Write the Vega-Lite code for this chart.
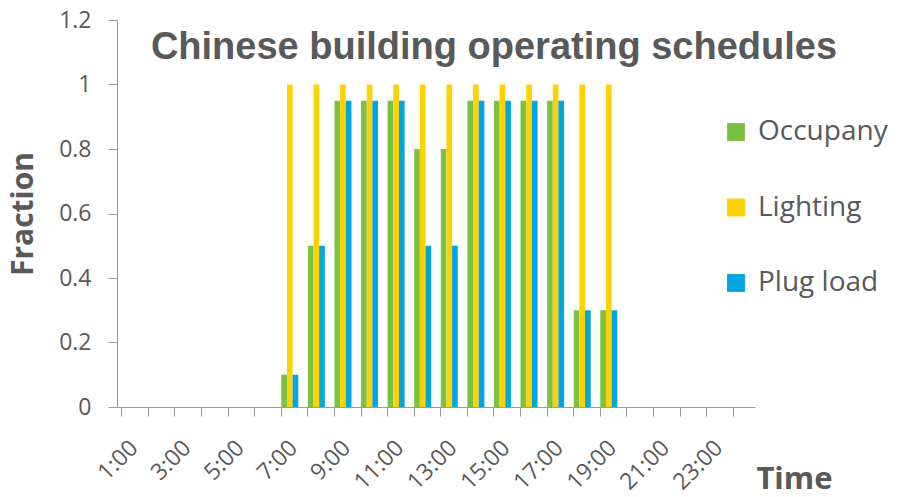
{
  "$schema": "https://vega.github.io/schema/vega-lite/v6.json",
  "width": 638,
  "height": 387,
  "autosize": {"type": "none"},
  "padding": {"left": 117, "top": 20, "right": 149, "bottom": 90},
  "background": "white",
  "title": {
    "text": "Chinese building operating schedules",
    "font": "Liberation Sans",
    "fontWeight": "bold",
    "fontSize": 38,
    "color": "#595959",
    "anchor": "middle",
    "frame": "group",
    "baseline": "alphabetic",
    "offset": -40,
    "dy": 48,
    "dx": 58
  },
  "data": {
    "values": [
      {"time": "1:00", "series": "Occupany", "value": 0}, {"time": "1:00", "series": "Lighting", "value": 0}, {"time": "1:00", "series": "Plug load", "value": 0},
      {"time": "2:00", "series": "Occupany", "value": 0}, {"time": "2:00", "series": "Lighting", "value": 0}, {"time": "2:00", "series": "Plug load", "value": 0},
      {"time": "3:00", "series": "Occupany", "value": 0}, {"time": "3:00", "series": "Lighting", "value": 0}, {"time": "3:00", "series": "Plug load", "value": 0},
      {"time": "4:00", "series": "Occupany", "value": 0}, {"time": "4:00", "series": "Lighting", "value": 0}, {"time": "4:00", "series": "Plug load", "value": 0},
      {"time": "5:00", "series": "Occupany", "value": 0}, {"time": "5:00", "series": "Lighting", "value": 0}, {"time": "5:00", "series": "Plug load", "value": 0},
      {"time": "6:00", "series": "Occupany", "value": 0}, {"time": "6:00", "series": "Lighting", "value": 0}, {"time": "6:00", "series": "Plug load", "value": 0},
      {"time": "7:00", "series": "Occupany", "value": 0.1}, {"time": "7:00", "series": "Lighting", "value": 1}, {"time": "7:00", "series": "Plug load", "value": 0.1},
      {"time": "8:00", "series": "Occupany", "value": 0.5}, {"time": "8:00", "series": "Lighting", "value": 1}, {"time": "8:00", "series": "Plug load", "value": 0.5},
      {"time": "9:00", "series": "Occupany", "value": 0.95}, {"time": "9:00", "series": "Lighting", "value": 1}, {"time": "9:00", "series": "Plug load", "value": 0.95},
      {"time": "10:00", "series": "Occupany", "value": 0.95}, {"time": "10:00", "series": "Lighting", "value": 1}, {"time": "10:00", "series": "Plug load", "value": 0.95},
      {"time": "11:00", "series": "Occupany", "value": 0.95}, {"time": "11:00", "series": "Lighting", "value": 1}, {"time": "11:00", "series": "Plug load", "value": 0.95},
      {"time": "12:00", "series": "Occupany", "value": 0.8}, {"time": "12:00", "series": "Lighting", "value": 1}, {"time": "12:00", "series": "Plug load", "value": 0.5},
      {"time": "13:00", "series": "Occupany", "value": 0.8}, {"time": "13:00", "series": "Lighting", "value": 1}, {"time": "13:00", "series": "Plug load", "value": 0.5},
      {"time": "14:00", "series": "Occupany", "value": 0.95}, {"time": "14:00", "series": "Lighting", "value": 1}, {"time": "14:00", "series": "Plug load", "value": 0.95},
      {"time": "15:00", "series": "Occupany", "value": 0.95}, {"time": "15:00", "series": "Lighting", "value": 1}, {"time": "15:00", "series": "Plug load", "value": 0.95},
      {"time": "16:00", "series": "Occupany", "value": 0.95}, {"time": "16:00", "series": "Lighting", "value": 1}, {"time": "16:00", "series": "Plug load", "value": 0.95},
      {"time": "17:00", "series": "Occupany", "value": 0.95}, {"time": "17:00", "series": "Lighting", "value": 1}, {"time": "17:00", "series": "Plug load", "value": 0.95},
      {"time": "18:00", "series": "Occupany", "value": 0.3}, {"time": "18:00", "series": "Lighting", "value": 1}, {"time": "18:00", "series": "Plug load", "value": 0.3},
      {"time": "19:00", "series": "Occupany", "value": 0.3}, {"time": "19:00", "series": "Lighting", "value": 1}, {"time": "19:00", "series": "Plug load", "value": 0.3},
      {"time": "20:00", "series": "Occupany", "value": 0}, {"time": "20:00", "series": "Lighting", "value": 0}, {"time": "20:00", "series": "Plug load", "value": 0},
      {"time": "21:00", "series": "Occupany", "value": 0}, {"time": "21:00", "series": "Lighting", "value": 0}, {"time": "21:00", "series": "Plug load", "value": 0},
      {"time": "22:00", "series": "Occupany", "value": 0}, {"time": "22:00", "series": "Lighting", "value": 0}, {"time": "22:00", "series": "Plug load", "value": 0},
      {"time": "23:00", "series": "Occupany", "value": 0}, {"time": "23:00", "series": "Lighting", "value": 0}, {"time": "23:00", "series": "Plug load", "value": 0},
      {"time": "24:00", "series": "Occupany", "value": 0}, {"time": "24:00", "series": "Lighting", "value": 0}, {"time": "24:00", "series": "Plug load", "value": 0}
    ]
  },
  "mark": {"type": "bar"},
  "encoding": {
    "x": {
      "field": "time",
      "type": "nominal",
      "sort": null,
      "scale": {"paddingInner": 0.36, "paddingOuter": 0.18},
      "axis": {
        "title": "Time",
        "titleFont": "Open Sans",
        "titleFontWeight": "bold",
        "titleFontSize": 31,
        "titleColor": "#595959",
        "titleX": 677,
        "titleY": 81,
        "titleAlign": "center",
        "titleBaseline": "alphabetic",
        "bandPosition": 0,
        "labelOffset": 4,
        "labelAngle": -45,
        "labelAlign": "right",
        "labelBaseline": "middle",
        "labelPadding": 28,
        "labelOverlap": false,
        "labelExpr": "toNumber(split(datum.value, ':')[0]) % 2 == 1 ? datum.value : ''",
        "labelFont": "Open Sans",
        "labelFontSize": 23,
        "labelColor": "#595959",
        "tickColor": "#9a9a9a",
        "tickSize": 9,
        "domainColor": "#9a9a9a",
        "grid": false
      }
    },
    "xOffset": {
      "field": "series",
      "type": "nominal",
      "scale": {"domain": ["Occupany", "Lighting", "Plug load"]}
    },
    "y": {
      "field": "value",
      "type": "quantitative",
      "scale": {"domain": [0, 1.2], "nice": false},
      "axis": {
        "title": "Fraction",
        "titleFont": "Open Sans",
        "titleFontWeight": "bold",
        "titleFontSize": 30,
        "titleColor": "#595959",
        "titlePadding": 20,
        "values": [0, 0.2, 0.4, 0.6, 0.8, 1, 1.2],
        "format": "~g",
        "labelFont": "Open Sans",
        "labelFontSize": 23,
        "labelColor": "#595959",
        "labelPadding": 17,
        "tickColor": "#9a9a9a",
        "tickSize": 9,
        "domainColor": "#9a9a9a",
        "grid": false
      }
    },
    "color": {
      "field": "series",
      "type": "nominal",
      "scale": {
        "domain": ["Occupany", "Lighting", "Plug load"],
        "range": ["#7BC143", "#FFD200", "#00A6E2"]
      },
      "legend": {
        "title": null,
        "orient": "none",
        "legendX": 605,
        "legendY": 98,
        "symbolType": "square",
        "symbolSize": 320,
        "symbolStrokeWidth": 0,
        "symbolOpacity": 1,
        "labelFont": "Open Sans",
        "labelFontSize": 28,
        "labelColor": "#595959",
        "labelOffset": 8,
        "rowPadding": 47.5
      }
    }
  },
  "config": {"view": {"stroke": null}}
}
